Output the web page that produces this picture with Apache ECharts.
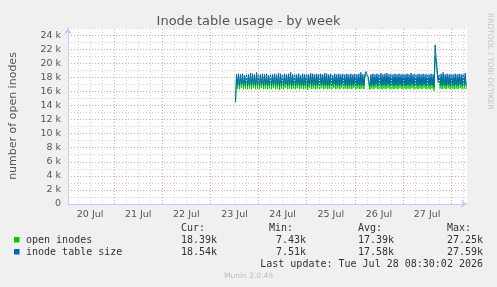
<!DOCTYPE html>
<html><head><meta charset="utf-8">
<script src="https://cdn.jsdelivr.net/npm/echarts@6/dist/echarts.min.js"></script>
<style>html,body{margin:0;padding:0;background:#f0f0f0}#c{width:497px;height:287px}</style>
</head><body><div id="c"></div>
<script>
// ---- data ----
const dayLabels = ['20 Jul','21 Jul','22 Jul','23 Jul','24 Jul','25 Jul','26 Jul','27 Jul'];
const yTickLabels = ['0','2 k','4 k','6 k','8 k','10 k','12 k','14 k','16 k','18 k','20 k','22 k','24 k'];
const sampleStartUTC = Date.UTC(2026, 6, 23, 12, 30);
const sampleStepMinutes = 30;
// open inodes (thousands), one sample per 30 minutes
const openInodesK = [
14.4,17.9,16.4,18.0,16.3,17.9,16.5,18.0,16.3,17.8,16.4,18.0,16.3,17.9,16.4,18.1,16.3,18.0,16.5,17.9,
16.3,18.2,16.4,18.0,16.3,17.9,16.5,18.0,16.3,17.9,16.4,18.0,16.3,17.8,16.4,18.0,16.3,17.9,16.5,18.0,
16.3,17.9,16.4,18.1,16.2,18.0,16.4,17.9,16.3,18.0,16.5,17.9,16.3,18.0,16.4,18.2,16.3,17.9,16.4,18.0,
16.3,17.9,16.5,18.0,16.3,17.8,16.4,18.0,16.3,17.9,16.4,18.0,16.2,17.9,16.5,18.1,16.3,18.0,16.4,17.9,
16.3,18.0,16.4,17.9,16.3,18.0,16.5,17.9,16.3,18.1,16.4,18.0,16.3,17.9,16.4,18.0,16.3,17.8,16.5,18.0,
16.3,17.9,16.4,18.0,16.3,17.9,16.5,18.0,16.3,17.9,16.4,18.0,16.3,17.9,16.4,18.0,16.3,17.9,16.5,18.0,
16.3,17.9,16.4,18.0,16.3,18.2,16.4,17.9,16.3,18.0,18.5,18.3,17.9,17.9,16.2,17.9,16.4,18.0,16.3,17.9,
16.5,18.0,16.3,17.9,16.4,18.1,16.3,17.9,16.4,18.0,16.3,18.1,16.5,17.9,16.3,18.0,16.4,17.9,16.3,18.0,
16.4,17.9,16.3,18.0,16.5,17.9,16.3,18.0,16.4,17.9,16.3,18.0,16.4,17.9,16.3,18.1,16.5,17.9,16.3,18.0,
16.4,17.9,16.3,18.0,16.4,17.9,16.3,18.0,16.5,17.9,16.3,18.0,16.4,17.9,16.3,18.0,16.4,17.9,16.1,21.0,
19.8,18.6,17.2,17.8,16.4,18.0,16.3,18.2,16.4,17.9,16.3,18.0,16.5,17.9,16.3,18.0,16.4,17.9,16.3,18.0,
16.4,17.9,16.3,18.0,16.5,17.9,16.3,18.0,16.4,18.1,16.3
];
// inode table size (thousands)
const tableSizeK = [
14.6,18.4,16.9,18.5,16.8,18.4,17.0,18.5,16.8,18.3,16.9,18.5,16.8,18.4,16.9,18.6,16.8,18.5,17.0,18.4,
16.8,18.7,16.9,18.5,16.8,18.4,17.0,18.5,16.8,18.4,16.9,18.5,16.8,18.3,16.9,18.5,16.8,18.4,17.0,18.5,
16.8,18.4,16.9,18.6,16.7,18.5,16.9,18.4,16.8,18.5,17.0,18.4,16.8,18.5,16.9,18.7,16.8,18.4,16.9,18.5,
16.8,18.4,17.0,18.5,16.8,18.3,16.9,18.5,16.8,18.4,16.9,18.5,16.7,18.4,17.0,18.6,16.8,18.5,16.9,18.4,
16.8,18.5,16.9,18.4,16.8,18.5,17.0,18.4,16.8,18.6,16.9,18.5,16.8,18.4,16.9,18.5,16.8,18.3,17.0,18.5,
16.8,18.4,16.9,18.5,16.8,18.4,17.0,18.5,16.8,18.4,16.9,18.5,16.8,18.4,16.9,18.5,16.8,18.4,17.0,18.5,
16.8,18.4,16.9,18.5,16.8,18.7,16.9,18.4,16.8,18.5,18.8,18.6,18.2,18.4,16.7,18.4,16.9,18.5,16.8,18.4,
17.0,18.5,16.8,18.4,16.9,18.6,16.8,18.4,16.9,18.5,16.8,18.6,17.0,18.4,16.8,18.5,16.9,18.4,16.8,18.5,
16.9,18.4,16.8,18.5,17.0,18.4,16.8,18.5,16.9,18.4,16.8,18.5,16.9,18.4,16.8,18.6,17.0,18.4,16.8,18.5,
16.9,18.4,16.8,18.5,16.9,18.4,16.8,18.5,17.0,18.4,16.8,18.5,16.9,18.4,16.8,18.5,16.9,18.4,16.6,22.6,
20.8,19.2,17.6,18.3,16.9,18.5,16.8,18.7,16.9,18.4,16.8,18.5,17.0,18.4,16.8,18.5,16.9,18.4,16.8,18.5,
16.9,18.4,16.8,18.5,17.0,18.4,16.8,18.5,16.9,18.6,16.8
];
const legendNames = ['open inodes', 'inode table size'];
const curVals = ['18.39k', '18.54k'];
const minVals = ['7.43k', '7.51k'];
const avgVals = ['17.39k', '17.58k'];
const maxVals = ['27.25k', '27.59k'];
const lastUpdate = 'Last update: Tue Jul 28 08:30:02 2026';

// ---- helpers ----
const axisOriginUTC = Date.UTC(2026, 6, 20, 0, 0);
const viewStartUTC = Date.UTC(2026, 6, 20, 1, 0);
const viewEndUTC = Date.UTC(2026, 6, 28, 7, 54);
const toH = t => (t - axisOriginUTC) / 3600000;
const stepH = sampleStepMinutes / 60;
const startH = toH(sampleStartUTC);
const toSeries = arr => arr.map((v, i) => [startH + i * stepH, v]);
const labelHours = dayLabels.map((_, i) => 12 + 24 * i);
const gridHours = [];
for (let h = 6; h < toH(viewEndUTC); h += 6) gridHours.push(h);

const GREEN = '#00cc00', BLUE = '#0066b3';
const RED_GRID = '#dfa3a3', GRAY_GRID = '#d2d2d2';
const MONO = "'DejaVu Sans Mono', monospace";
const SANS = "'DejaVu Sans', sans-serif";

const chart = echarts.init(document.getElementById('c'), null, {renderer: 'canvas'});

const texts = [];
const tx = (x, y, text, opt) => texts.push(Object.assign({
  type: 'text', x, y, silent: true,
  style: Object.assign({text, fill: '#333', font: '10px ' + MONO, textVerticalAlign: 'middle', textAlign: 'left'}, opt || {})
}));
tx(181, 228, 'Cur:'); tx(269, 228, 'Min:'); tx(358, 228, 'Avg:'); tx(447, 228, 'Max:');
[GREEN, BLUE].forEach((c, r) => {
  const y = 240 + r * 12;
  texts.push({type: 'rect', shape: {x: 14, y: y - 3, width: 5.5, height: 5.5}, style: {fill: c}, silent: true});
  tx(26, y, legendNames[r]);
  tx(217, y, curVals[r], {textAlign: 'right'});
  tx(306, y, minVals[r], {textAlign: 'right'});
  tx(394, y, avgVals[r], {textAlign: 'right'});
  tx(483, y, maxVals[r], {textAlign: 'right'});
});
tx(483, 264, lastUpdate, {textAlign: 'right'});
tx(248.5, 276, 'Munin 2.0.49', {textAlign: 'center', fill: '#bdbdbd', font: '7.5px ' + SANS});
texts.push({type: 'text', x: 489.5, y: 13, rotation: -Math.PI / 2, silent: true,
  style: {text: 'RRDTOOL / TOBI OETIKER', fill: '#c4c4c4', font: '7.5px ' + SANS, textAlign: 'left', textVerticalAlign: 'middle'}});

chart.setOption({
  animation: false,
  backgroundColor: '#f0f0f0',
  title: {text: 'Inode table usage - by week', left: 'center', top: 10,
    textStyle: {fontFamily: SANS, fontSize: 13, fontWeight: 'normal', color: '#555'}},
  grid: {left: 67, right: 30, top: 28, bottom: 83, show: true, backgroundColor: '#ffffff', borderWidth: 0, containLabel: false},
  xAxis: {
    type: 'value', min: toH(viewStartUTC), max: toH(viewEndUTC),
    axisLine: {show: true, onZero: false, lineStyle: {color: '#c8c8ff', width: 1}, symbol: ['none', 'arrow'], symbolSize: [6, 6]},
    axisTick: {show: false},
    splitLine: {show: false},
    axisLabel: {customValues: labelHours, formatter: v => dayLabels[Math.floor(v / 24)] || '',
      color: '#555', fontFamily: SANS, fontSize: 9.5, margin: 6}
  },
  yAxis: {
    type: 'value', min: 0, max: 25, interval: 1,
    name: 'number of open inodes', nameLocation: 'middle', nameGap: 49,
    nameTextStyle: {fontFamily: SANS, fontSize: 11, color: '#555'},
    axisLine: {show: true, lineStyle: {color: '#c8c8ff', width: 1}, symbol: ['none', 'arrow'], symbolSize: [6, 6]},
    axisTick: {show: false},
    axisLabel: {formatter: v => (v % 2 === 0 ? (yTickLabels[v / 2] || '') : ''),
      color: '#555', fontFamily: SANS, fontSize: 9.5, margin: 7},
    splitLine: {show: true, lineStyle: {color: [RED_GRID, GRAY_GRID], type: [1, 2], width: 1}}
  },
  graphic: texts,
  series: [
    {type: 'line', data: [], z: 1, silent: true,
      markLine: {silent: true, symbol: ['none', 'none'], label: {show: false},
        lineStyle: {type: [1, 2], width: 1},
        data: gridHours.map(h => ({xAxis: h, lineStyle: {color: h % 24 === 0 ? RED_GRID : GRAY_GRID, type: [1, 2], width: 1}}))}},
    {name: legendNames[0], type: 'line', data: toSeries(openInodesK), showSymbol: false, z: 3,
      lineStyle: {color: GREEN, width: 1}, itemStyle: {color: GREEN}},
    {name: legendNames[1], type: 'line', data: toSeries(tableSizeK), showSymbol: false, z: 4,
      lineStyle: {color: BLUE, width: 1}, itemStyle: {color: BLUE}}
  ]
});
</script></body></html>
